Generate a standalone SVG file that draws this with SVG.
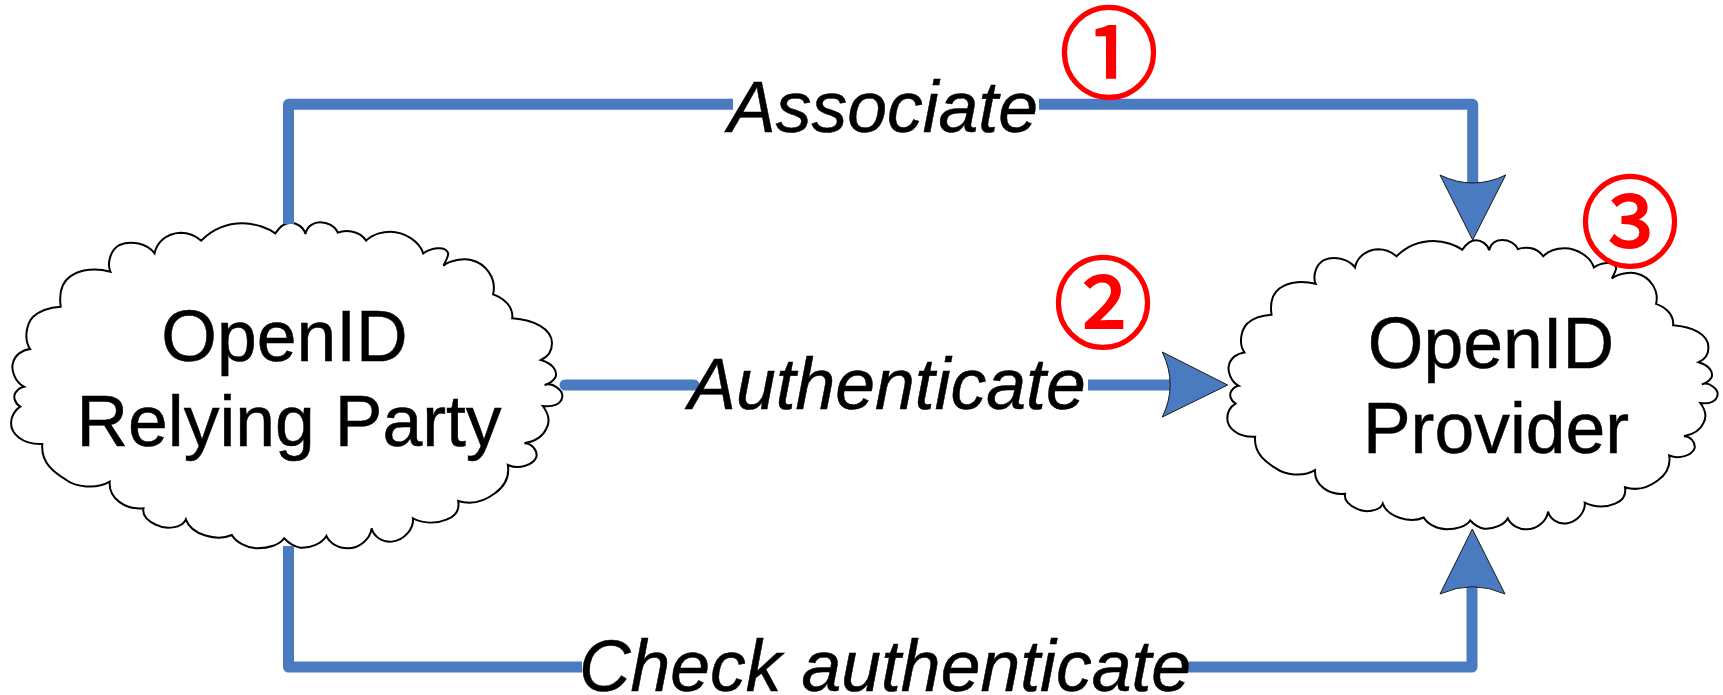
<svg xmlns="http://www.w3.org/2000/svg" width="1723" height="695" viewBox="0 0 1723 695">
<style>
.cloud{fill:#fff;stroke:#000;stroke-width:2;vector-effect:non-scaling-stroke;stroke-linejoin:miter}
.wire{fill:none;stroke:#4a7abf;stroke-width:11;stroke-linejoin:round;stroke-linecap:butt}
.head{fill:#4a7abf;stroke:#1a1a1a;stroke-width:1}
.node{font-family:"Liberation Sans",Arial,sans-serif;font-size:71.500px;fill:#000;stroke:#000;stroke-width:.5;text-anchor:middle}
.lab{font-family:"Liberation Sans",Arial,sans-serif;font-size:71.500px;font-style:italic;fill:#000;stroke:#000;stroke-width:.5;text-anchor:middle}
.num{font-family:"Noto Sans CJK JP","DejaVu Serif",serif;font-size:99px;fill:#f00;stroke:#f00;stroke-width:2;text-anchor:middle}
</style>
<defs>
<path id="cloudShape" class="cloud" d="M748,100 C760,80 775,68 790,68 C805,68 825,80 830,102 C835,75 855,67 870,67 C890,67 910,78 918,98 C935,90 975,88 995,122 C1015,100 1045,95 1060,95 C1100,95 1140,125 1150,160 C1170,145 1210,135 1218,160 C1218,172 1210,185 1205,197 C1225,180 1260,175 1280,180 C1320,190 1350,235 1340,283 C1370,295 1395,320 1392,355 C1450,360 1500,385 1500,430 C1500,450 1490,470 1470,480 C1500,490 1515,510 1510,530 C1505,540 1495,550 1480,555 C1500,545 1530,570 1528,590 C1525,615 1500,622 1475,618 C1490,640 1495,665 1485,685 C1475,710 1450,725 1425,730 C1445,730 1460,750 1458,770 C1450,795 1410,810 1380,795 C1385,830 1370,860 1345,880 C1315,905 1280,915 1245,903 C1250,935 1235,950 1215,958 C1185,972 1150,970 1122,955 C1125,985 1100,1020 1065,1025 C1040,1028 1015,1010 1010,985 C1005,1020 975,1045 945,1045 C920,1045 895,1030 887,1008 C875,1030 845,1045 815,1043 C800,1040 785,1030 772,1015 C760,1035 730,1045 700,1045 C670,1045 640,1025 630,1005 C590,1025 520,1005 505,958 C495,985 450,990 425,975 C405,965 385,950 390,925 C340,930 295,895 298,845 C260,870 205,860 180,840 C150,820 110,790 115,732 C60,735 30,700 30,670 C30,650 40,630 55,620 C40,610 35,590 42,578 C47,570 55,562 65,560 C40,545 30,510 35,490 C40,465 60,450 82,447 C65,420 70,375 90,350 C110,330 135,322 165,320 C160,280 165,250 190,230 C220,205 265,205 300,215 C290,190 300,150 325,135 C355,120 400,130 420,160 C425,130 450,100 490,98 C515,98 535,110 547,122 C580,85 620,70 660,70 C695,70 730,85 748,100 Z"/>
</defs>
<g id="relying-party">
<use href="#cloudShape" transform="matrix(.368 0 0 .3333 0 200)"/>
<text class="node" x="284.500" y="361">OpenID</text>
<text class="node" x="289" y="446">Relying Party</text>
</g>
<g id="provider">
<use href="#cloudShape" transform="matrix(.3273 0 0 .2958 1217.500 220.200)"/>
<text class="node" x="1491" y="368">OpenID</text>
<text class="node" x="1496" y="453">Provider</text>
</g>
<g id="connectors">
<path class="wire" d="M288.500,224 V104.300 H733"/>
<path class="wire" d="M1039,104.300 H1472.700 V184"/>
<path class="head" d="M1440,175 Q1473,191 1505.700,175 L1472.700,240 Z"/>
<path class="wire" style="stroke-linecap:round" d="M565,385 H694"/>
<path class="wire" d="M1088,385 H1172"/>
<path class="head" d="M1162.300,352 Q1178,385 1162.300,417 L1227.700,385 Z"/>
<path class="wire" d="M288.500,546 V667 H582"/>
<path class="wire" d="M1187,667 H1472 V585"/>
<path class="head" d="M1440,594 Q1472.500,579.400 1505,594 L1472.300,529 Z"/>
</g>
<g id="labels">
<text class="lab" x="883" y="132">Associate</text>
<text class="lab" x="887" y="409">Authenticate</text>
<text class="lab" x="885" y="691">Check authenticate</text>
</g>
<g id="step-marks">
<text class="num" x="1109" y="90">①</text>
<text class="num" x="1103" y="340">②</text>
<text class="num" x="1630" y="259">③</text>
</g>
</svg>
